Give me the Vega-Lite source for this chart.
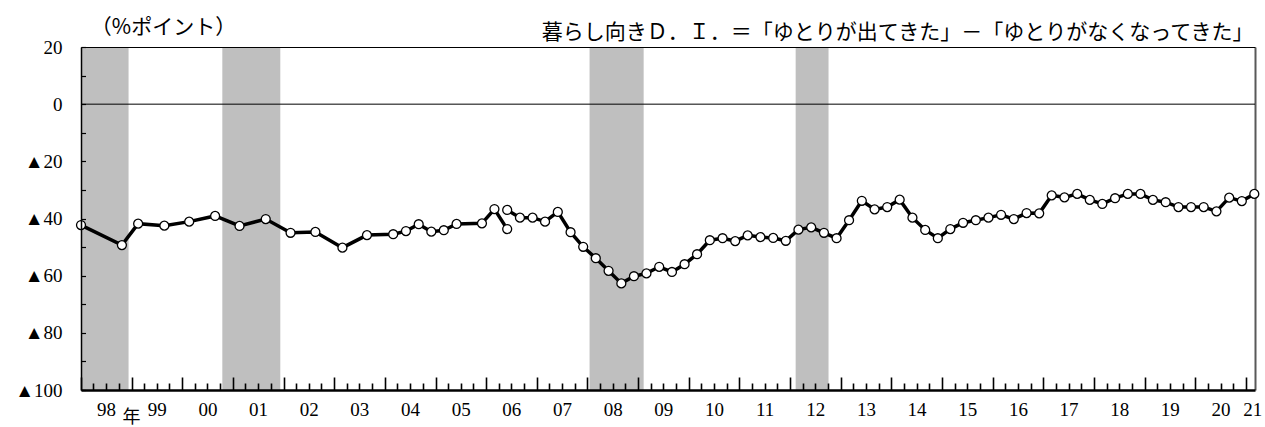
{
  "$schema": "https://vega.github.io/schema/vega-lite/v6.json",
  "width": 1174,
  "height": 343,
  "autosize": {"type": "none"},
  "padding": {"left": 81, "top": 47, "right": 10, "bottom": 37},
  "background": "white",
  "config": {
    "view": {"stroke": null},
    "axis": {"labelFont": "Liberation Serif, DejaVu Serif, serif", "labelFontSize": 19, "labelColor": "black", "titleColor": "black", "titleFontWeight": "normal", "grid": false}
  },
  "datasets": {
    "recessions": [
      {"start": "1997-05-15", "end": "1998-12-10"},
      {"start": "2000-10-16", "end": "2001-12-08"},
      {"start": "2008-01-16", "end": "2009-02-09"},
      {"start": "2012-02-10", "end": "2012-10-04"}
    ],
    "di": [
      {"date": "1998-01-01", "value": -42.3, "series": "old"},
      {"date": "1998-10-23", "value": -49.3, "series": "old"},
      {"date": "1999-02-17", "value": -41.8, "series": "old"},
      {"date": "1999-08-25", "value": -42.5, "series": "old"},
      {"date": "2000-02-20", "value": -41.1, "series": "old"},
      {"date": "2000-08-25", "value": -39.1, "series": "old"},
      {"date": "2001-02-17", "value": -42.6, "series": "old"},
      {"date": "2001-08-25", "value": -40.2, "series": "old"},
      {"date": "2002-02-20", "value": -45.0, "series": "old"},
      {"date": "2002-08-18", "value": -44.7, "series": "old"},
      {"date": "2003-03-01", "value": -50.2, "series": "old"},
      {"date": "2003-08-25", "value": -45.8, "series": "old"},
      {"date": "2004-03-01", "value": -45.5, "series": "old"},
      {"date": "2004-06-01", "value": -44.4, "series": "old"},
      {"date": "2004-09-01", "value": -42.0, "series": "old"},
      {"date": "2004-12-01", "value": -44.6, "series": "old"},
      {"date": "2005-03-01", "value": -44.1, "series": "old"},
      {"date": "2005-06-01", "value": -41.9, "series": "old"},
      {"date": "2005-12-01", "value": -41.7, "series": "old"},
      {"date": "2006-03-01", "value": -36.7, "series": "old"},
      {"date": "2006-06-01", "value": -43.7, "series": "old"},
      {"date": "2006-06-01", "value": -37.0, "series": "new"},
      {"date": "2006-09-01", "value": -39.7, "series": "new"},
      {"date": "2006-12-01", "value": -39.7, "series": "new"},
      {"date": "2007-03-01", "value": -41.1, "series": "new"},
      {"date": "2007-06-01", "value": -37.7, "series": "new"},
      {"date": "2007-09-01", "value": -44.8, "series": "new"},
      {"date": "2007-12-01", "value": -49.9, "series": "new"},
      {"date": "2008-03-01", "value": -53.9, "series": "new"},
      {"date": "2008-06-01", "value": -58.3, "series": "new"},
      {"date": "2008-09-01", "value": -62.7, "series": "new"},
      {"date": "2008-12-01", "value": -60.2, "series": "new"},
      {"date": "2009-03-01", "value": -59.2, "series": "new"},
      {"date": "2009-06-01", "value": -56.9, "series": "new"},
      {"date": "2009-09-01", "value": -58.7, "series": "new"},
      {"date": "2009-12-01", "value": -56.0, "series": "new"},
      {"date": "2010-03-01", "value": -52.5, "series": "new"},
      {"date": "2010-06-01", "value": -47.6, "series": "new"},
      {"date": "2010-09-01", "value": -46.9, "series": "new"},
      {"date": "2010-12-01", "value": -47.9, "series": "new"},
      {"date": "2011-03-01", "value": -45.9, "series": "new"},
      {"date": "2011-06-01", "value": -46.5, "series": "new"},
      {"date": "2011-09-01", "value": -46.8, "series": "new"},
      {"date": "2011-12-01", "value": -47.8, "series": "new"},
      {"date": "2012-03-01", "value": -43.9, "series": "new"},
      {"date": "2012-06-01", "value": -43.1, "series": "new"},
      {"date": "2012-09-01", "value": -45.0, "series": "new"},
      {"date": "2012-12-01", "value": -46.9, "series": "new"},
      {"date": "2013-03-01", "value": -40.6, "series": "new"},
      {"date": "2013-06-01", "value": -33.8, "series": "new"},
      {"date": "2013-09-01", "value": -36.8, "series": "new"},
      {"date": "2013-12-01", "value": -36.0, "series": "new"},
      {"date": "2014-03-01", "value": -33.4, "series": "new"},
      {"date": "2014-06-01", "value": -39.7, "series": "new"},
      {"date": "2014-09-01", "value": -44.0, "series": "new"},
      {"date": "2014-12-01", "value": -46.9, "series": "new"},
      {"date": "2015-03-01", "value": -43.7, "series": "new"},
      {"date": "2015-06-01", "value": -41.5, "series": "new"},
      {"date": "2015-09-01", "value": -40.6, "series": "new"},
      {"date": "2015-12-01", "value": -39.7, "series": "new"},
      {"date": "2016-03-01", "value": -38.7, "series": "new"},
      {"date": "2016-06-01", "value": -40.2, "series": "new"},
      {"date": "2016-09-01", "value": -38.1, "series": "new"},
      {"date": "2016-12-01", "value": -38.2, "series": "new"},
      {"date": "2017-03-01", "value": -31.9, "series": "new"},
      {"date": "2017-06-01", "value": -32.6, "series": "new"},
      {"date": "2017-09-01", "value": -31.4, "series": "new"},
      {"date": "2017-12-01", "value": -33.5, "series": "new"},
      {"date": "2018-03-01", "value": -34.9, "series": "new"},
      {"date": "2018-06-01", "value": -32.9, "series": "new"},
      {"date": "2018-09-01", "value": -31.4, "series": "new"},
      {"date": "2018-12-01", "value": -31.4, "series": "new"},
      {"date": "2019-03-01", "value": -33.5, "series": "new"},
      {"date": "2019-06-01", "value": -34.3, "series": "new"},
      {"date": "2019-09-01", "value": -36.0, "series": "new"},
      {"date": "2019-12-01", "value": -36.0, "series": "new"},
      {"date": "2020-03-01", "value": -36.0, "series": "new"},
      {"date": "2020-06-01", "value": -37.5, "series": "new"},
      {"date": "2020-09-01", "value": -32.7, "series": "new"},
      {"date": "2020-12-01", "value": -33.9, "series": "new"},
      {"date": "2021-03-01", "value": -31.4, "series": "new"}
    ],
    "zero": [{"v": 0}]
  },
  "layer": [
    {
      "data": {"name": "recessions"},
      "mark": {"type": "rect", "color": "#bfbfbf", "clip": true},
      "encoding": {
        "x": {
          "field": "start", "type": "temporal",
          "scale": {"type": "utc", "domain": [{"year": 1998, "month": 1, "date": 1, "utc": true}, {"year": 2021, "month": 3, "date": 6, "utc": true}]},
          "axis": {
            "orient": "bottom", "title": null, "labels": false, "zindex": 1,
            "tickCount": {"interval": "month", "step": 3},
            "tickColor": "black", "tickWidth": 1.6,
            "tickSize": {"condition": {"test": "utcmonth(datum.value) == 0", "value": -13}, "value": -7},
            "domain": true, "domainColor": "black", "domainWidth": 2.5
          }
        },
        "x2": {"field": "end"}
      }
    },
    {
      "data": {"name": "zero"},
      "mark": {"type": "rule", "color": "black", "strokeWidth": 1},
      "encoding": {
        "y": {
          "field": "v", "type": "quantitative",
          "scale": {"domain": [-100, 20], "nice": false, "zero": false},
          "axis": {"orient": "right", "title": null, "labels": false, "ticks": false, "domain": true, "domainColor": "#595959", "domainWidth": 2, "zindex": 0}
        }
      }
    },
    {
      "data": {"name": "di"},
      "mark": {"type": "line", "color": "black", "strokeWidth": 3.5},
      "encoding": {
        "x": {
          "field": "date", "type": "temporal",
          "scale": {"type": "utc", "domain": [{"year": 1998, "month": 1, "date": 1, "utc": true}, {"year": 2021, "month": 3, "date": 6, "utc": true}]},
          "axis": {
            "orient": "bottom", "ticks": false, "domain": false, "zindex": 1,
            "values": [
              {"year": 1998, "month": 7, "date": 1, "utc": true},
              {"year": 1999, "month": 7, "date": 1, "utc": true},
              {"year": 2000, "month": 7, "date": 1, "utc": true},
              {"year": 2001, "month": 7, "date": 1, "utc": true},
              {"year": 2002, "month": 7, "date": 1, "utc": true},
              {"year": 2003, "month": 7, "date": 1, "utc": true},
              {"year": 2004, "month": 7, "date": 1, "utc": true},
              {"year": 2005, "month": 7, "date": 1, "utc": true},
              {"year": 2006, "month": 7, "date": 1, "utc": true},
              {"year": 2007, "month": 7, "date": 1, "utc": true},
              {"year": 2008, "month": 7, "date": 1, "utc": true},
              {"year": 2009, "month": 7, "date": 1, "utc": true},
              {"year": 2010, "month": 7, "date": 1, "utc": true},
              {"year": 2011, "month": 7, "date": 1, "utc": true},
              {"year": 2012, "month": 7, "date": 1, "utc": true},
              {"year": 2013, "month": 7, "date": 1, "utc": true},
              {"year": 2014, "month": 7, "date": 1, "utc": true},
              {"year": 2015, "month": 7, "date": 1, "utc": true},
              {"year": 2016, "month": 7, "date": 1, "utc": true},
              {"year": 2017, "month": 7, "date": 1, "utc": true},
              {"year": 2018, "month": 7, "date": 1, "utc": true},
              {"year": 2019, "month": 7, "date": 1, "utc": true},
              {"year": 2020, "month": 7, "date": 1, "utc": true},
              {"year": 2021, "month": 2, "date": 14, "utc": true}
            ],
            "labelExpr": "utcFormat(datum.value, '%y')",
            "labelPadding": 10, "labelFlush": false, "labelOverlap": false,
            "title": "年", "titleFont": "Noto Sans CJK JP", "titleFontSize": 18,
            "titleX": 50, "titleY": 27, "titleAlign": "center", "titleBaseline": "middle"
          }
        },
        "y": {
          "field": "value", "type": "quantitative",
          "scale": {"domain": [-100, 20], "nice": false, "zero": false},
          "axis": {
            "orient": "left", "title": null, "labels": false, "zindex": 1,
            "values": [-100, -90, -80, -70, -60, -50, -40, -30, -20, -10, 0, 10, 20],
            "ticks": true, "tickSize": -4.5, "tickColor": "black", "tickWidth": 1.2,
            "domain": true, "domainColor": "black", "domainWidth": 1.5
          }
        },
        "detail": {"field": "series"}
      }
    },
    {
      "data": {"name": "di"},
      "mark": {"type": "point", "shape": "circle", "filled": false, "fill": "white", "fillOpacity": 1, "stroke": "black", "strokeWidth": 1.3, "size": 80, "opacity": 1},
      "encoding": {
        "x": {
          "field": "date", "type": "temporal",
          "scale": {"type": "utc", "domain": [{"year": 1998, "month": 1, "date": 1, "utc": true}, {"year": 2021, "month": 3, "date": 6, "utc": true}]},
          "axis": {
            "orient": "top", "labels": false, "ticks": false, "domain": true, "domainColor": "black", "domainWidth": 1, "zindex": 1,
            "title": "暮らし向きＤ．Ｉ．＝「ゆとりが出てきた」－「ゆとりがなくなってきた」",
            "titleFont": "Noto Sans CJK JP", "titleFontSize": 21,
            "titleX": 1172, "titleY": -15, "titleAlign": "right", "titleBaseline": "middle", "titleAngle": 0
          }
        },
        "y": {
          "field": "value", "type": "quantitative",
          "scale": {"domain": [-100, 20], "nice": false, "zero": false},
          "axis": {
            "orient": "left", "ticks": false, "domain": false, "zindex": 1,
            "values": [-100, -80, -60, -40, -20, 0, 20],
            "labelExpr": "datum.value < 0 ? '▲' + abs(datum.value) : '' + datum.value",
            "labelPadding": 19, "labelFont": "Liberation Serif, Noto Sans CJK JP, serif", "labelFontSize": 19, "labelBaseline": "middle",
            "title": "（%ポイント）", "titleFont": "Noto Sans CJK JP", "titleFontSize": 21, "titleAngle": 0,
            "titleX": 82, "titleY": -20, "titleAlign": "center", "titleBaseline": "middle"
          }
        }
      }
    }
  ],
  "resolve": {"axis": {"x": "independent", "y": "independent"}}
}
